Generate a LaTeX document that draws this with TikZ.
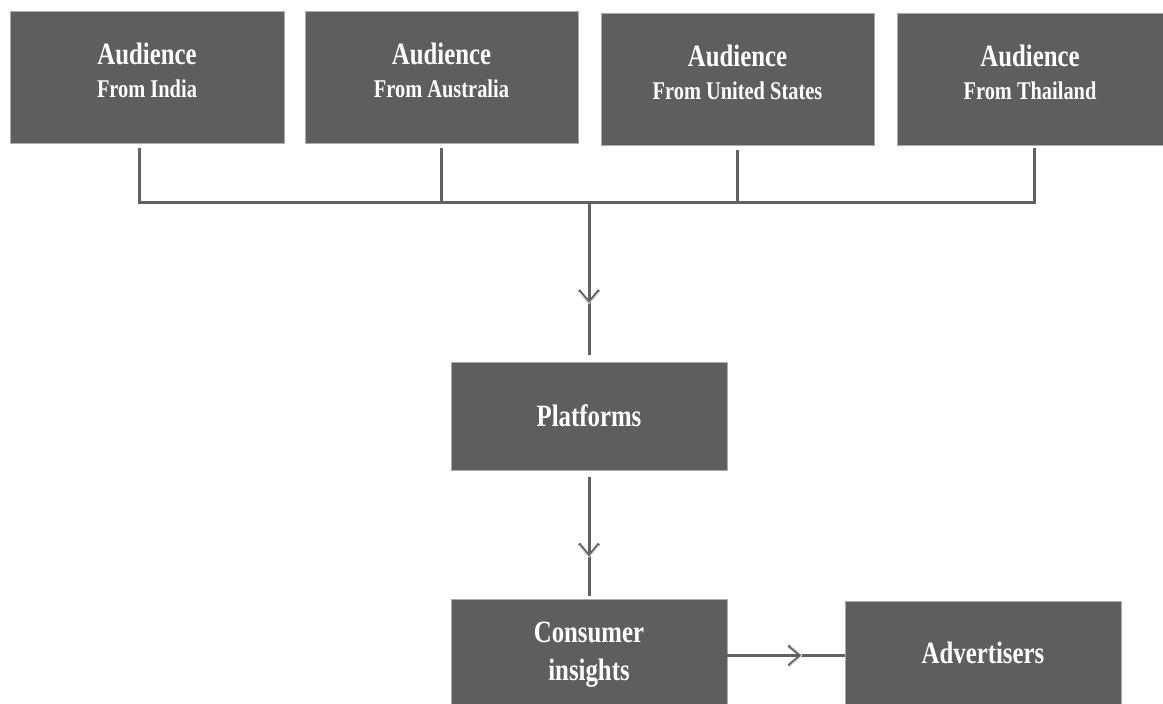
\documentclass[tikz,border=0pt]{standalone}
\usepackage{fontspec}
\newfontfamily\boxfont[FakeStretch=0.8]{Liberation Serif}
\usetikzlibrary{arrows.meta}
\usetikzlibrary{decorations.markings}

\definecolor{boxgray}{HTML}{5E5E5E}
\definecolor{linegray}{HTML}{616161}

\begin{document}
\begin{tikzpicture}[x=1pt,y=-1pt,
	box/.style={draw=gray!65, line width=0.8pt, fill=boxgray, text=white, align=center, inner sep=0pt, font=\boxfont\bfseries\fontsize{31}{38}\selectfont},
	audbox/.style={box, minimum width=273pt, minimum height=132pt, text depth=14pt, font=\boxfont\bfseries\fontsize{25.5}{33}\selectfont},
	mainbox/.style={box, minimum width=276pt},
	link/.style={draw=linegray, line width=3pt},
	midarrow/.style={postaction={decorate}, decoration={markings, mark=at position #1 with {
		\arrow[draw=linegray, line width=2.6pt]{Straight Barb[length=12pt,width=20pt]}
		\arrow[draw=gray!25, line width=0.7pt]{Straight Barb[length=12pt,width=20pt]}}}},
	midarrow/.default=0.6]
	
	\useasboundingbox (0,0) rectangle (1163,704);
	
	% audience boxes
	\node[audbox, minimum width=274pt] (india) at (147,77) {{\fontsize{31}{33}\selectfont Audience}\\From India};
	\node[audbox] (australia) at (441.5,77) {{\fontsize{31}{33}\selectfont Audience}\\From Australia};
	\node[audbox] (states) at (737.5,79) {{\fontsize{31}{33}\selectfont Audience}\\From United States};
	\node[audbox, minimum width=266pt] (thailand) at (1030,79) {{\fontsize{31}{33}\selectfont Audience}\\From Thailand};
	
	% main chain
	\node[mainbox, minimum height=108pt] (platforms) at (589,416) {Platforms};
	\node[mainbox, minimum height=105pt, text depth=0pt] (insights) at (589,651.5) {Consumer\\insights};
	\node[mainbox, minimum height=103pt] (advertisers) at (983,652.5) {Advertisers};
	
	\coordinate (bus) at (589,202);
	
	% connectors
	\draw[link, shorten <=5pt, shorten >=3pt] ([xshift=-8pt]india.south) |- (bus) -| ([xshift=4pt]thailand.south);
	\draw[link, shorten <=5pt] (australia.south) -- (australia.south |- bus);
	\draw[link, shorten <=5pt] (states.south) -- (states.south |- bus);
	\draw[link, midarrow=0.64, shorten >=7pt] (bus) -- (platforms.north);
	\draw[link, midarrow=0.68, shorten <=7pt, shorten >=3pt] (platforms.south) -- (insights.north);
	\draw[link, midarrow=0.64] ([yshift=-4pt]insights.east) -- ([yshift=-4pt]insights.east -| advertisers.west);
\end{tikzpicture}
\end{document}
